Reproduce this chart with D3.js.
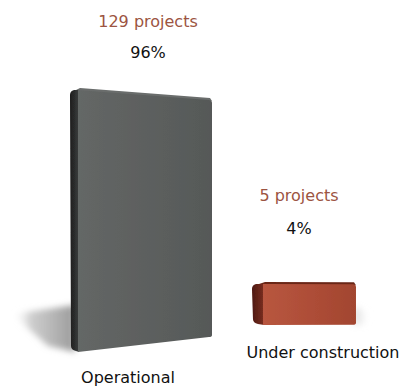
<!DOCTYPE html>
<html>
<head>
<meta charset="utf-8">
<script src="https://cdn.jsdelivr.net/npm/d3@7"></script>
<style>
  html, body { margin: 0; padding: 0; background: #fff; }
  svg { display: block; }
  text { font-family: "DejaVu Sans", Verdana, sans-serif; }
</style>
</head>
<body>
<svg id="chart" width="405" height="390"></svg>
<script>
// Project status breakdown
const categories = ["Operational", "Under construction"];
const projects = [129, 5];
const shares = [96, 4];

const svg = d3.select("#chart");
const defs = svg.append("defs");

// Per-bar look: front face colours, side colours
const palette = [
  { front: ["#646766", "#5c5f5e", "#565958"], side: ["#1c1c1c", "#3c3d3d"], top: "#6a6d6c", shadowSide: "left" },
  { front: ["#b8563f", "#ad4d37", "#a2452f"], side: ["#4e1a12", "#7a2e20"], top: "#6a2619", shadowSide: "right" }
];

palette.forEach((p, i) => {
  const gf = defs.append("linearGradient").attr("id", "front" + i)
    .attr("x1", 0).attr("x2", 1).attr("y1", 0).attr("y2", 0);
  gf.append("stop").attr("offset", "0%").attr("stop-color", p.front[0]);
  gf.append("stop").attr("offset", "55%").attr("stop-color", p.front[1]);
  gf.append("stop").attr("offset", "100%").attr("stop-color", p.front[2]);
  const gs = defs.append("linearGradient").attr("id", "side" + i)
    .attr("x1", 0).attr("x2", 1).attr("y1", 0).attr("y2", 0);
  gs.append("stop").attr("offset", "0%").attr("stop-color", p.side[0]);
  gs.append("stop").attr("offset", "100%").attr("stop-color", p.side[1]);
});

// Shadow gradients and blur
const shL = defs.append("linearGradient").attr("id", "shadowL")
  .attr("x1", 0).attr("x2", 1).attr("y1", 0).attr("y2", 0);
shL.append("stop").attr("offset", "0%").attr("stop-color", "#fff").attr("stop-opacity", 0);
shL.append("stop").attr("offset", "30%").attr("stop-color", "#bdbdbd").attr("stop-opacity", 0.75);
shL.append("stop").attr("offset", "100%").attr("stop-color", "#9a9a9a").attr("stop-opacity", 1);
const shR = defs.append("linearGradient").attr("id", "shadowR")
  .attr("x1", 0).attr("x2", 1).attr("y1", 0).attr("y2", 0);
shR.append("stop").attr("offset", "0%").attr("stop-color", "#a8a8a8").attr("stop-opacity", 0.5);
shR.append("stop").attr("offset", "100%").attr("stop-color", "#fff").attr("stop-opacity", 0);
defs.append("filter").attr("id", "blur").attr("x", "-30%").attr("y", "-50%").attr("width", "160%").attr("height", "200%")
  .append("feGaussianBlur").attr("stdDeviation", 3);
defs.append("filter").attr("id", "soft")
  .append("feGaussianBlur").attr("stdDeviation", 0.6);

// Horizontal placement: band scale for the two boxes
const x = d3.scaleBand().domain(categories).range([70, 383]).paddingInner(0.28).paddingOuter(0);
// Bar height: base thickness plus a linear share of the project count
const base = 32;
const y = d3.scaleLinear().domain([0, d3.max(projects)]).range([0, 230]);

// Bottom edge of each box (perspective view: boxes sit at different depths)
const bottoms = { "Operational": 352, "Under construction": 325 };
const widths = { "Operational": 142, "Under construction": 104 };
const sideW = { "Operational": 8, "Under construction": 11 };

const bars = categories.map((c, i) => {
  const H = base + y(projects[i]);
  const x0 = x(c);
  const w = widths[c];
  const sw = sideW[c];
  const shrink = 0.095 * H * (H / 262);   // right edge appears shorter
  const bl = bottoms[c];
  return {
    c, i, H, x0, w, sw,
    fx0: x0 + sw, fx1: x0 + w,
    blY: bl, tlY: bl - H,
    brY: bl - shrink * 0.6, trY: bl - H + shrink * 0.4
  };
});

// Cast shadows
bars.forEach(b => {
  if (palette[b.i].shadowSide === "left") {
    svg.append("path")
      .attr("d", `M${b.x0 + 5},${b.blY - 47} L${b.x0 - 58},${b.blY - 38} L${b.x0 - 22},${b.blY - 6} L${b.x0 + 5},${b.blY} Z`)
      .attr("fill", "url(#shadowL)")
      .attr("filter", "url(#blur)");
  } else {
    svg.append("path")
      .attr("d", `M${b.fx1 - 2},${b.brY - 18} L${b.fx1 + 14},${b.brY - 12} L${b.fx1 + 12},${b.brY} L${b.fx1 - 2},${b.brY} Z`)
      .attr("fill", "url(#shadowR)")
      .attr("filter", "url(#blur)");
  }
});

const g = svg.append("g").attr("filter", "url(#soft)");

bars.forEach(b => {
  const r = Math.min(4, b.sw * 0.5);
  // Top face
  g.append("path")
    .attr("d", `M${b.x0 + r},${b.tlY + 1} L${b.fx0 + 2},${b.tlY - 2} L${b.fx1 - 2},${b.trY - 2} L${b.fx1},${b.trY + 1} L${b.fx0},${b.tlY + 2} Z`)
    .attr("fill", palette[b.i].top);
  // Left side face
  g.append("path")
    .attr("d", `M${b.x0},${b.tlY + r + 1} Q${b.x0},${b.tlY + 1} ${b.x0 + r},${b.tlY} L${b.fx0 + 1},${b.tlY} L${b.fx0 + 1},${b.blY} L${b.x0 + r + 2},${b.blY - 1} Q${b.x0 + 1},${b.blY - 2} ${b.x0 + 1},${b.blY - r - 2} Z`)
    .attr("fill", `url(#side${b.i})`);
  // Front face
  g.append("path")
    .attr("d", `M${b.fx0},${b.tlY} L${b.fx1 - 3},${b.trY} Q${b.fx1},${b.trY} ${b.fx1},${b.trY + 3} L${b.fx1},${b.brY - 2} Q${b.fx1},${b.brY} ${b.fx1 - 3},${b.brY} L${b.fx0},${b.blY} Z`)
    .attr("fill", `url(#front${b.i})`);
});

// Value labels above each box
const labelColor = "#9c5442";
bars.forEach(b => {
  const cx = b.x0 + b.w / 2 + (b.i === 0 ? 7 : -5);
  const topY = Math.min(b.tlY, b.trY);
  svg.append("text")
    .attr("x", cx).attr("y", topY - (b.i === 0 ? 63 : 83))
    .attr("text-anchor", "middle")
    .attr("font-size", 16)
    .attr("fill", labelColor)
    .text(projects[b.i] + " projects");
  svg.append("text")
    .attr("x", cx).attr("y", topY - (b.i === 0 ? 32 : 50))
    .attr("text-anchor", "middle")
    .attr("font-size", 16)
    .attr("fill", "#111")
    .text(shares[b.i] + "%");
});

// Category labels below each box
bars.forEach(b => {
  svg.append("text")
    .attr("x", b.x0 + b.w / 2 + (b.i === 0 ? -13 : 19))
    .attr("y", b.blY + (b.i === 0 ? 31 : 33))
    .attr("text-anchor", "middle")
    .attr("font-size", 16)
    .attr("fill", "#111")
    .text(b.c);
});
</script>
</body>
</html>
